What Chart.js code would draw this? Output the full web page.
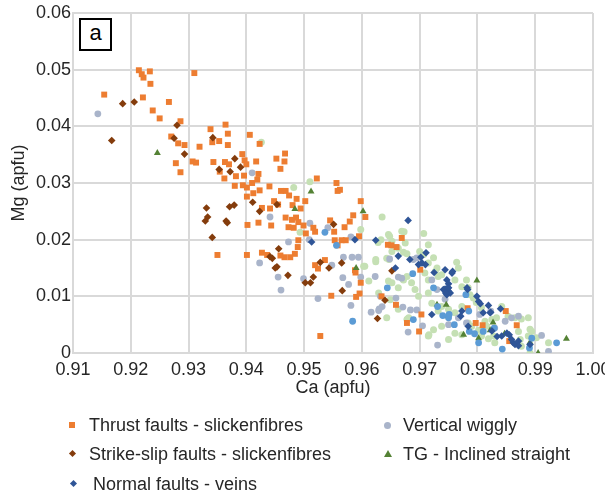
<!DOCTYPE html>
<html>
<head>
<meta charset="utf-8">
<script src="https://cdn.jsdelivr.net/npm/chart.js@4.4.0/dist/chart.umd.min.js"></script>
<style>
  body { margin: 0; background: #fff; font-family: Arial, "Liberation Sans", sans-serif; }
  #wrap { position: relative; width: 605px; height: 498px; }
  #tag { position: absolute; left: 79px; top: 18px; width: 29px; height: 29px; border: 2px solid #000;
         background: #fff; font-size: 22px; line-height: 26px; text-align: center; color: #000; }
  .lg { position: absolute; font-size: 18px; line-height: 20px; color: #262626; white-space: nowrap; }
  .mk { position: absolute; }
</style>
</head>
<body>
<div id="wrap">
  <canvas id="myChart" width="605" height="498"></canvas>
  <div id="tag">a</div>

  <div class="mk" style="left:69px;top:422px;width:6px;height:6px;background:#ed7d31"></div>
  <div class="lg" style="left:89px;top:415px">Thrust faults - slickenfibres</div>
  <div class="mk" style="left:70px;top:451px;width:5px;height:5px;background:#843c0c;transform:rotate(45deg)"></div>
  <div class="lg" style="left:89px;top:444px">Strike-slip faults - slickenfibres</div>
  <div class="mk" style="left:71px;top:481px;width:5px;height:5px;background:#2f5597;transform:rotate(45deg)"></div>
  <div class="lg" style="left:93px;top:474px">Normal faults - veins</div>

  <div class="mk" style="left:384px;top:422px;width:7px;height:7px;border-radius:50%;background:#a9b4ca"></div>
  <div class="lg" style="left:403px;top:415px">Vertical wiggly</div>
  <div class="mk" style="left:384px;top:450px;width:0;height:0;border-left:4px solid transparent;border-right:4px solid transparent;border-bottom:7px solid #548235"></div>
  <div class="lg" style="left:403px;top:444px">TG - Inclined straight</div>
</div>
<script>
// tick labels
var xTicks = [0.91, 0.92, 0.93, 0.94, 0.95, 0.96, 0.97, 0.98, 0.99, 1.00];
var yTicks = [0, 0.01, 0.02, 0.03, 0.04, 0.05, 0.06];

// [Ca, Mg] pairs
var thrust = [
  [0.9214,0.0499],[0.9219,0.0492],[0.9222,0.0486],[0.9233,0.0497],[0.9234,0.0475],[0.9310,0.0494],
  [0.9154,0.0456],[0.9221,0.0451],[0.9266,0.0443],[0.9238,0.0428],[0.9250,0.0414],[0.9286,0.0409],
  [0.9270,0.0382],[0.9282,0.0370],[0.9293,0.0367],[0.9319,0.0364],[0.9278,0.0335],[0.9286,0.0319],
  [0.9307,0.0338],[0.9313,0.0336],[0.9338,0.0395],[0.9364,0.0403],[0.9368,0.0387],[0.9353,0.0374],
  [0.9341,0.0372],[0.9368,0.0367],[0.9343,0.0337],[0.9363,0.0337],[0.9370,0.0333],[0.9354,0.0320],
  [0.9362,0.0308],[0.9382,0.0312],[0.9396,0.0313],[0.9393,0.0351],[0.9397,0.0340],[0.9400,0.0333],
  [0.9406,0.0385],[0.9380,0.0295],[0.9394,0.0296],[0.9401,0.0292],[0.9401,0.0276],
  [0.9350,0.0173],[0.9401,0.0173],[0.9402,0.0226],
  [0.9423,0.0369],[0.9467,0.0352],[0.9452,0.0343],[0.9466,0.0338],[0.9459,0.0325],[0.9417,0.0338],
  [0.9421,0.0316],[0.9419,0.0306],[0.9423,0.0287],[0.9410,0.0300],[0.9412,0.0282],[0.9440,0.0294],
  [0.9460,0.0286],[0.9468,0.0286],[0.9474,0.0278],[0.9487,0.0272],[0.9448,0.0268],[0.9455,0.0262],
  [0.9480,0.0261],[0.9502,0.0268],[0.9427,0.0256],[0.9441,0.0255],[0.9494,0.0255],[0.9468,0.0239],
  [0.9479,0.0235],[0.9486,0.0239],[0.9490,0.0231],[0.9421,0.0230],[0.9443,0.0225],[0.9473,0.0222],
  [0.9482,0.0221],[0.9499,0.0225],[0.9503,0.0211],[0.9516,0.0221],[0.9519,0.0214],[0.9522,0.0308],
  [0.9556,0.0300],[0.9562,0.0288],[0.9558,0.0286],[0.9585,0.0243],[0.9579,0.0232],[0.9598,0.0268],
  [0.9606,0.0240],[0.9570,0.0222],[0.9545,0.0234],[0.9552,0.0214],[0.9595,0.0206],[0.9553,0.0199],
  [0.9558,0.0190],[0.9565,0.0199],[0.9572,0.0199],[0.9645,0.0191],[0.9651,0.0190],[0.9660,0.0187],
  [0.9490,0.0199],[0.9489,0.0187],[0.9484,0.0175],[0.9466,0.0169],[0.9459,0.0172],[0.9476,0.0169],
  [0.9427,0.0177],[0.9436,0.0173],[0.9519,0.0155],[0.9524,0.0149],[0.9536,0.0164],[0.9588,0.0146],
  [0.9547,0.0101],[0.9528,0.0030],[0.9590,0.0099],[0.9596,0.0105],[0.9598,0.0124],[0.9589,0.0142],
  [0.9634,0.0100],[0.9659,0.0085],[0.9678,0.0053],[0.9699,0.0038],[0.9703,0.0068],[0.9669,0.0203],
  [0.9701,0.0147],[0.9783,0.0079],[0.9797,0.0053],[0.9809,0.0049],[0.9868,0.0049],[0.9849,0.0074],
  [0.9855,0.0021]
];
var strikeSlip = [
  [0.9186,0.0440],[0.9206,0.0443],[0.9167,0.0375],[0.9280,0.0402],[0.9275,0.0379],[0.9293,0.0351],
  [0.9342,0.0380],[0.9380,0.0343],[0.9353,0.0324],[0.9372,0.0320],[0.9390,0.0328],
  [0.9331,0.0256],[0.9333,0.0240],[0.9329,0.0233],[0.9371,0.0258],[0.9379,0.0261],[0.9365,0.0233],
  [0.9367,0.0230],[0.9341,0.0204],[0.9453,0.0262],[0.9423,0.0250],[0.9411,0.0266],[0.9551,0.0227],
  [0.9456,0.0184],[0.9445,0.0167],[0.9441,0.0170],[0.9450,0.0150],[0.9453,0.0152],[0.9472,0.0137],
  [0.9502,0.0124],[0.9511,0.0124],[0.9516,0.0134],[0.9528,0.0160],[0.9543,0.0150],[0.9565,0.0159],
  [0.9566,0.0110],[0.9652,0.0145],[0.9640,0.0093],[0.9627,0.0061]
];
var normal = [
  [0.9513,0.0196],[0.9588,0.0200],[0.9624,0.0199],[0.9663,0.0171],[0.9683,0.0165],[0.9702,0.0169],
  [0.9711,0.0177],[0.9698,0.0156],[0.9710,0.0156],[0.9658,0.0150],[0.9725,0.0142],[0.9680,0.0234],
  [0.9704,0.0159],[0.9744,0.0147],[0.9756,0.0141],[0.9747,0.0129],[0.9744,0.0113],[0.9750,0.0109],
  [0.9747,0.0103],[0.9750,0.0115],[0.9741,0.0112],[0.9753,0.0106],[0.9750,0.0122],[0.9782,0.0115],
  [0.9799,0.0100],[0.9802,0.0091],[0.9805,0.0087],[0.9810,0.0071],[0.9822,0.0071],[0.9825,0.0039],
  [0.9842,0.0030],[0.9855,0.0032],[0.9862,0.0018],[0.9865,0.0015],[0.9871,0.0021],[0.9891,0.0015],
  [0.9721,0.0068],[0.9773,0.0074],[0.9819,0.0084],[0.9784,0.0047],[0.9859,0.0024],[0.9757,0.0144],
  [0.9749,0.0115],[0.9745,0.0106],[0.9783,0.0112],[0.9823,0.0072],[0.9771,0.0065],[0.9840,0.0078],
  [0.9834,0.0029],[0.9871,0.0013],[0.9851,0.0035]
];
var vertical = [
  [0.9143,0.0422],[0.9410,0.0318],[0.9441,0.0240],[0.9473,0.0196],[0.9510,0.0229],[0.9541,0.0221],
  [0.9509,0.0200],[0.9581,0.0205],[0.9568,0.0169],[0.9583,0.0169],[0.9594,0.0169],[0.9423,0.0159],
  [0.9455,0.0134],[0.9499,0.0131],[0.9548,0.0155],[0.9598,0.0134],[0.9460,0.0111],[0.9524,0.0096],
  [0.9581,0.0084],[0.9577,0.0121],[0.9567,0.0133],[0.9632,0.0100],[0.9630,0.0078],[0.9635,0.0082],
  [0.9616,0.0072],[0.9659,0.0097],[0.9671,0.0081],[0.9684,0.0076],[0.9695,0.0076],[0.9680,0.0037],
  [0.9731,0.0014],[0.9623,0.0135],[0.9669,0.0132],[0.9689,0.0165],[0.9695,0.0168],[0.9744,0.0095],
  [0.9750,0.0050],[0.9767,0.0062],[0.9804,0.0068],[0.9823,0.0074],[0.9859,0.0062],[0.9911,0.0031],
  [0.9923,0.0003],[0.9721,0.0129],[0.9730,0.0112],[0.9663,0.0134],[0.9848,0.0056],[0.9871,0.0065],
  [0.9781,0.0053],[0.9830,0.0044],[0.9648,0.0166],[0.9629,0.0075],[0.9705,0.0048]
];
var inclined = [
  [0.9246,0.0353],[0.9512,0.0285],[0.9484,0.0254],[0.9602,0.0250],[0.9590,0.0150],[0.9730,0.0085],
  [0.9746,0.0085],[0.9799,0.0128],[0.9776,0.0032],[0.9802,0.0026],[0.9847,0.0034],[0.9891,0.0019],
  [0.9905,0.0000],[0.9954,0.0025],[0.9822,0.0040],[0.9827,0.0054],[0.9749,0.0065]
];
var paleGreen = [
  [0.9635,0.0240],[0.9633,0.0200],[0.9628,0.0195],[0.9646,0.0209],[0.9669,0.0215],[0.9707,0.0211],
  [0.9652,0.0197],[0.9663,0.0185],[0.9672,0.0178],[0.9678,0.0175],[0.9700,0.0179],[0.9707,0.0174],
  [0.9715,0.0191],[0.9724,0.0168],[0.9715,0.0159],[0.9730,0.0150],[0.9732,0.0135],[0.9738,0.0138],
  [0.9727,0.0144],[0.9764,0.0160],[0.9761,0.0129],[0.9773,0.0117],[0.9781,0.0129],[0.9784,0.0115],
  [0.9787,0.0103],[0.9793,0.0097],[0.9798,0.0089],[0.9767,0.0150],[0.9646,0.0127],[0.9652,0.0124],
  [0.9663,0.0115],[0.9672,0.0129],[0.9678,0.0135],[0.9686,0.0124],[0.9692,0.0112],[0.9698,0.0100],
  [0.9715,0.0106],[0.9715,0.0129],[0.9709,0.0141],[0.9649,0.0094],[0.9663,0.0077],[0.9681,0.0062],
  [0.9721,0.0088],[0.9732,0.0074],[0.9750,0.0077],[0.9738,0.0082],[0.9761,0.0071],[0.9773,0.0082],
  [0.9807,0.0080],[0.9813,0.0056],[0.9825,0.0059],[0.9833,0.0062],[0.9842,0.0082],[0.9853,0.0065],
  [0.9865,0.0062],[0.9876,0.0060],[0.9888,0.0062],[0.9891,0.0042],[0.9894,0.0038],[0.9888,0.0030],
  [0.9871,0.0038],[0.9874,0.0024],[0.9876,0.0012],[0.9830,0.0018],[0.9828,0.0030],[0.9819,0.0025],
  [0.9807,0.0030],[0.9802,0.0040],[0.9784,0.0053],[0.9761,0.0035],[0.9738,0.0047],[0.9724,0.0041],
  [0.9715,0.0030],[0.9750,0.0024],[0.9678,0.0059],[0.9643,0.0062],[0.9629,0.0106],[0.9612,0.0127],
  [0.9603,0.0153],[0.9643,0.0167],[0.9652,0.0179],[0.9675,0.0194],[0.9923,0.0018],[0.9891,0.0000],
  [0.9902,0.0027],[0.9816,0.0047],[0.9790,0.0047],[0.9773,0.0032],
  [0.9426,0.0372],[0.9482,0.0292],[0.9510,0.0302],[0.9493,0.0213],[0.9598,0.0218],[0.9605,0.0153],
  [0.9624,0.0161],[0.9624,0.0165],[0.9647,0.0165],[0.9673,0.0214],[0.9648,0.0206],[0.9679,0.0060],
  [0.9716,0.0032]
];
var paleBlue = [
  [0.9536,0.0213],[0.9556,0.0190],[0.9584,0.0056],[0.9644,0.0115],[0.9689,0.0059],[0.9688,0.0140],
  [0.9724,0.0115],[0.9750,0.0062],[0.9760,0.0050],[0.9795,0.0034],[0.9810,0.0038],[0.9829,0.0044],
  [0.9843,0.0007],[0.9890,0.0009],[0.9937,0.0018],[0.9780,0.0103],[0.9731,0.0082],[0.9751,0.0068],
  [0.9786,0.0038],[0.9894,0.0026],[0.9785,0.0074],[0.9740,0.0066],[0.9802,0.0018]
];

function series(label, pts, style, color, r) {
  return {
    label: label,
    data: pts.map(function (p) { return { x: p[0], y: p[1] }; }),
    pointStyle: style,
    pointRadius: r,
    backgroundColor: color,
    borderColor: color,
    borderWidth: 0
  };
}

var ctx = document.getElementById("myChart");
var chart = new Chart(ctx, {
  type: "scatter",
  data: {
    datasets: [
      series("Normal faults - veins", normal, "rectRot", "#2f5597", 3.8),
      series("", paleBlue, "circle", "#5b9bd5", 3.4),
      series("TG - Inclined straight", inclined, "triangle", "#548235", 4),
      series("Strike-slip faults - slickenfibres", strikeSlip, "rectRot", "#843c0c", 3.8),
      series("Thrust faults - slickenfibres", thrust, "rect", "#ed7d31", 4.2),
      series("Vertical wiggly", vertical, "circle", "#a9b4ca", 3.4),
      series("", paleGreen, "circle", "#c5e0b4", 3.5)
    ]
  },
  options: {
    responsive: false,
    animation: false,
    layout: { padding: { left: 0, right: 12, top: 13, bottom: 95 } },
    plugins: { legend: { display: false }, tooltip: { enabled: false } },
    scales: {
      x: {
        type: "linear",
        min: xTicks[0],
        max: xTicks[xTicks.length - 1],
        afterBuildTicks: function (s) { s.ticks = xTicks.map(function (v) { return { value: v }; }); },
        ticks: {
          color: "#262626",
          font: { size: 18, family: "Arial, 'Liberation Sans'" },
          padding: 6,
          maxRotation: 0,
          callback: function (v) { return Number(v).toFixed(2); }
        },
        grid: { color: "#d9d9d9", lineWidth: 2, drawTicks: false },
        border: { color: "#d9d9d9", width: 2 },
        title: {
          display: true, text: "Ca (apfu)", color: "#262626",
          font: { size: 18, family: "Arial, 'Liberation Sans'" },
          padding: { top: 0, bottom: 4 }
        },
        afterFit: function (s) { s.height = 50; s.paddingLeft = 0; s.paddingRight = 0; }
      },
      y: {
        type: "linear",
        min: yTicks[0],
        max: yTicks[yTicks.length - 1],
        afterBuildTicks: function (s) { s.ticks = yTicks.map(function (v) { return { value: v }; }); },
        ticks: {
          color: "#262626",
          font: { size: 18, family: "Arial, 'Liberation Sans'" },
          padding: 2,
          callback: function (v) { return v === 0 ? "0" : Number(v).toFixed(2); }
        },
        grid: { color: "#d9d9d9", lineWidth: 2, drawTicks: false },
        border: { color: "#d9d9d9", width: 2 },
        title: {
          display: true, text: "Mg (apfu)", color: "#262626",
          font: { size: 18, family: "Arial, 'Liberation Sans'" },
          padding: { top: 8, bottom: 0 }
        },
        afterFit: function (s) { s.width = 73; s.paddingTop = 0; s.paddingBottom = 0; }
      }
    }
  }
});
</script>
</body>
</html>
